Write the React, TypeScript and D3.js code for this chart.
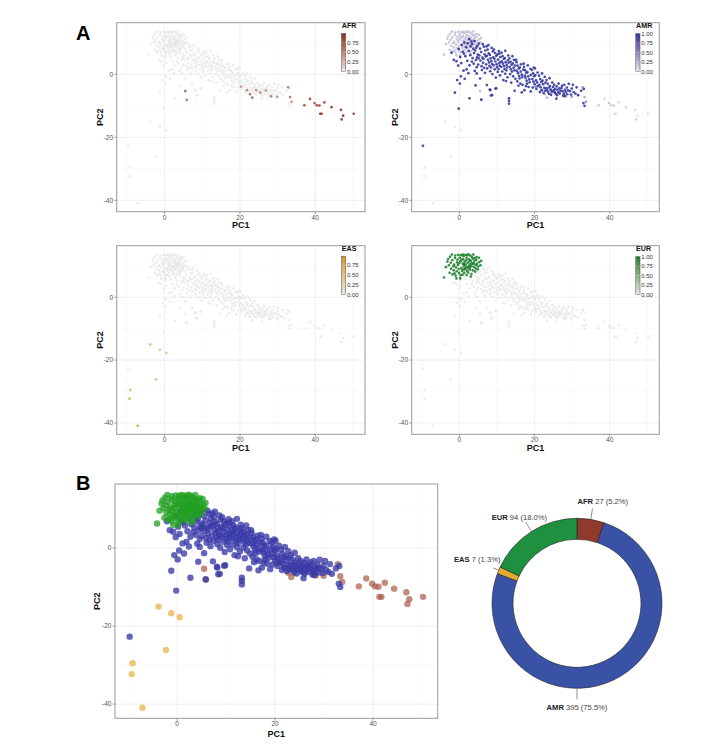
import React from "react";
import * as d3 from "d3";

// ---------------- DATA ----------------
const categories = ["AFR", "AMR", "EAS", "EUR"];
const counts = [27, 395, 7, 94];
const percentLabels = ["5.2%", "75.5%", "1.3%", "18.0%"];

const xTicks = [0, 20, 40];
const yTicks = [0, -20, -40];
const xMinor = [-10, 10, 30, 50];
const yMinor = [10, -10, -30];
const legendBreaks = [0, 0.25, 0.5, 0.75, 1];

// AFR samples: [PC1, PC2, AFR proportion]
const afrPoints: [number, number, number][] = [
  [5.5, -5.3, 0.75], [5.9, -8.1, 0.62], [20.3, -3.9, 0.45], [21.9, -5.0, 0.55], [22.7, -6.3, 0.68],
  [23.3, -7.4, 0.72], [24.3, -5.0, 0.5], [25.4, -5.8, 0.52], [26.9, -5.1, 0.47], [28.3, -7.0, 0.58],
  [29.9, -7.1, 0.55], [32.8, -4.1, 0.6], [33.3, -7.2, 0.66], [33.7, -8.7, 0.52], [37.1, -9.8, 0.85],
  [38.6, -7.8, 0.88], [39.8, -9.1, 0.8], [40.4, -9.8, 0.9], [41.1, -9.9, 0.86], [41.3, -12.5, 0.95],
  [41.7, -12.5, 0.92], [42.4, -8.9, 0.88], [44.3, -10.4, 0.9], [46.8, -11.3, 0.93], [47.0, -14.3, 0.9],
  [47.4, -13.1, 0.98], [50.2, -12.5, 0.91],
];

// EAS samples: [PC1, PC2, EAS proportion]
const easPoints: [number, number, number][] = [
  [-3.8, -15.0, 0.55], [-1.2, -16.7, 0.5], [0.5, -17.7, 0.45], [-2.3, -26.1, 0.6],
  [-9.1, -29.5, 0.7], [-9.3, -32.3, 0.75], [-7.1, -40.9, 0.97],
];

// EUR samples: [PC1, PC2]
const eurPoints: [number, number][] = [
  [-4.1, 6.3], [-3.2, 11.4], [-2.5, 12.9], [-1.1, 13.3], [-0.5, 12.0], [0.9, 10.7], [1.6, 13.5], [2.9, 13.3],
  [4.0, 11.6], [4.7, 10.7], [-1.5, 8.6], [-0.1, 7.7], [-1.8, 7.3], [-0.8, 6.0], [0.2, 6.0], [-2.8, 10.2],
  [-2.2, 9.1], [-1.9, 11.8], [-1.4, 10.4], [-0.9, 9.5], [-0.6, 11.1], [-0.3, 13.5], [0.1, 12.6], [0.3, 11.5],
  [0.5, 9.3], [0.7, 8.4], [1.0, 12.1], [1.2, 9.9], [1.4, 11.3], [1.5, 8.9], [1.7, 10.4], [1.9, 12.6],
  [2.0, 9.6], [2.2, 11.0], [2.3, 7.9], [2.5, 12.2], [2.6, 10.1], [2.8, 8.8], [3.0, 11.7], [3.1, 9.9],
  [3.3, 12.8], [3.5, 10.6], [3.6, 8.6], [3.8, 9.7], [4.1, 12.5], [4.3, 9.2], [4.5, 11.9], [5.0, 9.8],
  [5.3, 11.2], [5.6, 10.2], [-3.6, 9.6], [-2.6, 7.8], [-1.2, 12.5], [-0.4, 10.3], [0.4, 13.4], [0.8, 7.2],
  [1.1, 13.1], [1.3, 7.8], [1.8, 11.8], [2.1, 13.4], [2.4, 9.3], [2.7, 11.5], [3.2, 7.4], [3.4, 11.0],
  [3.9, 10.8], [4.2, 8.2], [4.6, 12.8], [4.9, 8.9], [-2.0, 13.6], [-1.6, 9.9], [-0.7, 8.3], [0.0, 10.9],
  [0.6, 12.0], [1.2, 10.6], [1.6, 9.3], [2.1, 8.4], [2.9, 10.6], [3.7, 13.6], [5.8, 11.6], [-3.0, 12.2],
  [0.3, 7.0], [1.9, 7.1], [-1.0, 6.9], [4.4, 10.2], [3.0, 6.6], [2.4, 13.7], [0.9, 13.6], [-2.3, 11.0],
  [5.2, 12.6], [-0.2, 9.0], [1.0, 8.9], [2.7, 9.5], [3.6, 12.3], [-1.3, 7.6],
];

// AMR samples: [PC1, PC2]
const amrPoints: [number, number][] = [
  [-0.8, 4.2], [-0.3, 2.8], [0.2, 5.5], [0.5, 3.6], [0.9, 7.2], [-0.2, 8.1], [0.6, 9.4], [1.1, 1.2],
  [0.4, -0.6], [-0.6, -1.8], [1.4, -1.4], [0.1, -2.9], [-1.2, -5.8], [-0.2, -10.9], [-9.7, -22.7], [-2.1, 6.9],
  [-1.5, 4.6],
  [1.3, 10.1], [1.8, 8.6], [2.2, 9.9], [2.5, 7.4], [1.6, 5.8], [2.9, 6.1], [2.1, 4.3], [2.7, 2.9],
  [1.9, 1.6], [2.4, 0.4], [2.7, -7.6], [3.0, 8.9], [1.2, 6.6], [2.6, 11.2], [3.2, 10.4],
  [3.4, 9.6], [3.7, 8.1], [3.9, 6.8], [4.2, 7.6], [3.5, 5.2], [4.4, 4.6], [3.8, 3.4], [4.6, 2.3],
  [4.1, 1.1], [4.3, -3.5], [4.8, 9.1], [4.9, 6.3], [4.5, 8.5], [3.3, 4.1], [4.7, 5.4], [5.0, 3.1],
  [4.0, 10.6], [4.6, 0.3],
  [5.2, 9.8], [5.5, 8.2], [5.8, 7.1], [5.3, 6.0], [6.1, 5.3], [5.6, 4.4], [6.3, 3.7], [5.9, 2.6],
  [6.5, 8.8], [6.7, 6.4], [6.0, 1.4], [6.8, 0.5], [5.5, -1.3], [5.8, -8.0], [6.2, 9.6], [6.9, 7.6],
  [6.4, 4.9], [5.1, 5.1], [6.6, 2.1], [7.0, 5.7],
  [7.2, 8.9], [7.5, 7.9], [7.8, 6.7], [7.3, 5.9], [8.1, 6.2], [7.6, 4.6], [8.3, 5.1], [7.9, 3.8],
  [8.5, 4.2], [8.0, 2.7], [8.7, 3.3], [7.4, 1.9], [8.2, 1.0], [8.8, 0.1], [7.3, -3.4], [8.1, -4.8],
  [8.4, -6.7], [8.2, -5.0], [8.7, -6.6], [8.9, 7.3], [8.6, 8.4], [7.7, 9.3], [8.4, 2.2], [7.1, 3.2],
  [9.0, 5.4],
  [9.2, 7.9], [9.5, 6.8], [9.8, 5.9], [9.3, 5.0], [10.1, 6.3], [9.6, 4.1], [10.3, 4.7], [9.9, 3.2],
  [10.6, 3.6], [10.0, 2.3], [10.7, 2.8], [9.4, 1.6], [10.2, 0.8], [10.8, -0.3], [9.6, -4.5], [9.8, -4.4],
  [10.5, 7.4], [10.9, 5.5], [9.1, 2.9], [10.4, 1.7], [11.0, 4.0], [9.7, -1.0], [10.6, 6.6],
  [11.2, 6.9], [11.5, 5.8], [11.8, 4.9], [11.3, 4.1], [12.1, 5.2], [11.6, 3.4], [12.3, 3.9], [11.9, 2.6],
  [12.6, 3.0], [12.0, 1.7], [12.7, 2.2], [11.4, 0.9], [12.2, 0.2], [12.8, -0.9], [11.7, -1.8], [12.2, 7.5],
  [12.9, 4.5], [11.1, 2.4], [12.5, 1.3], [13.0, 6.0], [12.4, -2.1],
  [13.2, -7.6], [13.2, -8.4], [13.2, -9.3], [13.3, 5.1], [13.6, 4.0], [13.9, 3.1], [13.4, 2.4], [14.2, 3.5],
  [13.7, 1.6], [14.4, 2.1], [14.0, 0.9], [14.7, 1.3], [13.5, 0.1], [14.3, -0.6], [14.9, -1.4], [14.7, -5.2],
  [13.8, -2.6], [14.5, 4.6], [14.1, 5.8], [13.1, 3.7], [14.8, 2.8],
  [15.2, 3.9], [15.5, 2.8], [15.8, 1.9], [15.3, 1.1], [16.1, 2.2], [15.6, 0.4], [16.3, 0.9], [15.9, -0.5],
  [16.6, -0.1], [16.0, -1.3], [16.7, -0.9], [15.4, -2.2], [16.2, -2.9], [16.8, -3.3], [16.6, -5.7], [15.1, 4.6],
  [16.4, 3.2], [15.7, -3.6], [17.0, 1.5],
  [17.3, -5.0], [17.2, 2.4], [17.5, 1.3], [17.8, 0.5], [17.4, -0.4], [18.1, 0.7], [17.6, -1.1], [18.3, -0.6],
  [17.9, -2.0], [18.6, -1.6], [18.0, -2.9], [18.7, -2.5], [17.7, -3.7], [18.4, -4.0], [18.9, 1.8], [17.1, 3.4],
  [18.2, 2.9], [19.0, -0.2],
  [19.0, -5.4], [19.3, 1.4], [19.6, 0.3], [19.9, -0.6], [19.4, -1.5], [20.2, -0.2], [19.7, -2.3], [20.4, -1.9],
  [20.0, -3.1], [20.7, -2.6], [20.1, 1.9], [20.8, 0.6], [19.5, -4.2], [20.5, -4.6], [20.9, -3.7], [19.8, 2.2],
  [21.2, -0.4], [21.5, -1.5], [21.8, -2.4], [21.3, -3.3], [22.1, -2.0], [21.6, -4.1], [22.3, -3.1], [21.9, -5.0],
  [22.6, -4.3], [22.0, 0.3], [22.7, -0.8], [21.4, -5.6], [22.4, -5.9], [22.9, -2.6], [22.8, -5.2],
  [23.2, -1.8], [23.5, -3.0], [23.8, -4.2], [23.3, -5.0], [24.1, -3.7], [23.6, -5.6], [24.3, -4.8], [23.9, -6.2],
  [24.6, -5.5], [24.0, -1.2], [24.7, -2.6], [24.4, -6.5], [23.1, -4.4], [24.9, -4.0],
  [25.2, -3.3], [25.5, -4.6], [25.8, -7.7], [25.3, -5.6], [26.1, -4.9], [25.6, -6.1], [26.3, -5.7], [25.9, -3.8],
  [26.6, -4.4], [26.0, -6.6], [26.7, -6.1], [26.4, -2.9], [25.1, -5.0], [26.9, -5.2],
  [27.2, -4.3], [27.5, -5.4], [27.8, -6.2], [27.3, -3.6], [28.1, -4.9], [27.6, -6.8], [28.3, -5.6], [28.6, -4.2],
  [28.0, -6.9], [28.7, -6.3], [27.9, -3.3], [28.9, -5.1],
  [29.1, -3.0], [30.2, -3.3], [29.9, -4.5], [30.9, -6.1], [29.4, -5.3], [30.4, -5.6], [31.2, -4.1], [31.6, -6.6],
  [29.7, -6.4], [33.0, -9.1], [33.3, -10.0], [32.4, -5.2], [33.1, -4.6],
];

// secondary AMR share carried by non-AMR groups (for panel A colouring)
const amrShareEUR = 0.2;
const amrShareEAS = 0.03;

// ---------------- STYLE ----------------
const FONT = "'Liberation Sans', Arial, Helvetica, sans-serif";
const highColor: Record<string, string> = { AFR: "#8c2a1c", AMR: "#30339a", EAS: "#d99a12", EUR: "#1a7f2b" };
const lowColor = "#e6e6e6";
const bColor: Record<string, string> = { AFR: "#a85a48", AMR: "#3a3aa8", EAS: "#e4b448", EUR: "#22a022" };
const bOpacity: Record<string, number> = { AFR: 0.7, AMR: 0.78, EAS: 0.75, EUR: 0.75 };
const donutColor: Record<string, string> = { AFR: "#8f3a2a", AMR: "#3a52a6", EAS: "#e5a930", EUR: "#1f8f40" };

type Sample = { x: number; y: number; group: string; p: Record<string, number> };

const samples: Sample[] = [
  ...afrPoints.map(([x, y, a]) => ({ x, y, group: "AFR", p: { AFR: a, AMR: 1 - a, EAS: 0, EUR: 0 } })),
  ...easPoints.map(([x, y, e]) => ({ x, y, group: "EAS", p: { AFR: 0, AMR: amrShareEAS, EAS: e, EUR: 0 } })),
  ...amrPoints.map(([x, y]) => ({ x, y, group: "AMR", p: { AFR: 0, AMR: 1, EAS: 0, EUR: 0 } })),
  ...eurPoints.map(([x, y]) => ({ x, y, group: "EUR", p: { AFR: 0, AMR: amrShareEUR, EAS: 0, EUR: 1 } })),
];

const xExt = d3.extent(samples, (d) => d.x) as [number, number];
const yExt = d3.extent(samples, (d) => d.y) as [number, number];
const pad = (e: [number, number]): [number, number] => {
  const r = e[1] - e[0];
  return [e[0] - 0.05 * r, e[1] + 0.05 * r];
};
const xDomain = pad(xExt);
const yDomain = pad(yExt);

type Box = { x: number; y: number; w: number; h: number };

function Frame({ box, tickFont, tickDy, titleDy, ylabDx, titleFont, children }: any) {
  const xs = d3.scaleLinear().domain(xDomain).range([box.x, box.x + box.w]);
  const ys = d3.scaleLinear().domain(yDomain).range([box.y + box.h, box.y]);
  const bottom = box.y + box.h;
  return (
    <g>
      <rect x={box.x} y={box.y} width={box.w} height={box.h} fill="#fff" />
      {xMinor.filter((v) => v > xDomain[0] && v < xDomain[1]).map((v) => (
        <line key={"xm" + v} x1={xs(v)} x2={xs(v)} y1={box.y} y2={bottom} stroke="#f4f4f4" strokeWidth={0.5} />
      ))}
      {yMinor.filter((v) => v > yDomain[0] && v < yDomain[1]).map((v) => (
        <line key={"ym" + v} y1={ys(v)} y2={ys(v)} x1={box.x} x2={box.x + box.w} stroke="#f4f4f4" strokeWidth={0.5} />
      ))}
      {xTicks.map((v) => (
        <line key={"xg" + v} x1={xs(v)} x2={xs(v)} y1={box.y} y2={bottom} stroke="#ebebeb" strokeWidth={0.8} />
      ))}
      {yTicks.map((v) => (
        <line key={"yg" + v} y1={ys(v)} y2={ys(v)} x1={box.x} x2={box.x + box.w} stroke="#ebebeb" strokeWidth={0.8} />
      ))}
      {children(xs, ys)}
      <rect x={box.x} y={box.y} width={box.w} height={box.h} fill="none" stroke="#9a9a9a" strokeWidth={1} />
      {xTicks.map((v) => (
        <g key={"xt" + v}>
          <line x1={xs(v)} x2={xs(v)} y1={bottom} y2={bottom + 2.5} stroke="#666" strokeWidth={0.6} />
          <text x={xs(v)} y={bottom + tickDy} textAnchor="middle" fontSize={tickFont} fill="#555" fontFamily={FONT}>
            {v}
          </text>
        </g>
      ))}
      {yTicks.map((v) => (
        <g key={"yt" + v}>
          <line x1={box.x - 2.5} x2={box.x} y1={ys(v)} y2={ys(v)} stroke="#666" strokeWidth={0.6} />
          <text x={box.x - 3.5} y={ys(v)} dy="0.35em" textAnchor="end" fontSize={tickFont} fill="#555" fontFamily={FONT}>
            {v}
          </text>
        </g>
      ))}
      <text x={box.x + box.w / 2} y={bottom + titleDy} textAnchor="middle" fontSize={titleFont} fontWeight="bold" fontFamily={FONT} fill="#111">
        PC1
      </text>
      <text
        transform={`translate(${box.x - ylabDx},${box.y + box.h / 2}) rotate(-90)`}
        textAnchor="middle"
        dy="0.35em"
        fontSize={titleFont}
        fontWeight="bold"
        fontFamily={FONT}
        fill="#111"
      >
        PC2
      </text>
    </g>
  );
}

function PanelA({ box, cat }: { box: Box; cat: string }) {
  const vals = samples.map((s) => s.p[cat]);
  const vmax = d3.max(vals) as number;
  const color = d3.scaleLinear<string>().domain([0, vmax]).range([lowColor, highColor[cat]]).interpolate(d3.interpolateLab);
  const sorted = [...samples].sort((a, b) => a.p[cat] - b.p[cat]);
  const barTop = box.y + 10.8;
  const barLen = 38;
  const barX = box.x + box.w - 23.5;
  const ly = d3.scaleLinear().domain([0, vmax]).range([barTop + barLen, barTop]);
  const gid = "grad" + cat;
  const stops = d3.range(0, 1.0001, 0.1);
  return (
    <g>
      <defs>
        <linearGradient id={gid} x1="0" y1="1" x2="0" y2="0">
          {stops.map((t) => (
            <stop key={t} offset={t} stopColor={t === 0 ? "#f6f6f6" : color(t * vmax)} />
          ))}
        </linearGradient>
      </defs>
      <Frame box={box} tickFont={6.6} tickDy={8} titleDy={16.5} ylabDx={16.5} titleFont={9}>
        {(xs: any, ys: any) =>
          sorted.map((s, i) => (
            <circle
              key={i}
              cx={xs(s.x)}
              cy={ys(s.y)}
              r={1.35}
              fill={color(s.p[cat])}
              fillOpacity={s.p[cat] < 0.05 ? 0.7 : 0.88}
            />
          ))
        }
      </Frame>
      <text x={barX + 0.3} y={box.y + 5.6} fontSize={7.1} fontWeight="bold" fontFamily={FONT} fill="#111">
        {cat}
      </text>
      <rect x={barX} y={barTop} width={4.2} height={barLen} fill={`url(#${gid})`} stroke="#444" strokeWidth={0.5} />
      {legendBreaks.filter((b) => b <= vmax + 1e-9).map((b) => (
        <g key={b}>
          <line x1={barX} x2={barX + 0.9} y1={ly(b)} y2={ly(b)} stroke="#fff" strokeWidth={0.5} />
          <line x1={barX + 3.3} x2={barX + 4.2} y1={ly(b)} y2={ly(b)} stroke="#fff" strokeWidth={0.5} />
          <text x={barX + 5.4} y={ly(b)} dy="0.35em" fontSize={6} fontFamily={FONT} fill="#333">
            {b.toFixed(2)}
          </text>
        </g>
      ))}
    </g>
  );
}

function PanelB({ box }: { box: Box }) {
  const order = ["AFR", "EAS", "AMR", "EUR"];
  const pts = order.flatMap((g) => samples.filter((s) => s.group === g));
  return (
    <Frame box={box} tickFont={6.6} tickDy={8} titleDy={18.5} ylabDx={18.3} titleFont={9}>
      {(xs: any, ys: any) =>
        pts.map((s, i) => (
          <circle key={i} cx={xs(s.x)} cy={ys(s.y)} r={3.2} fill={bColor[s.group]} fillOpacity={bOpacity[s.group]} />
        ))
      }
    </Frame>
  );
}

function Donut() {
  const cx = 577, cy = 603.3, rOut = 85, rIn = 64;
  const pie = d3.pie<number>().sort(null).value((d) => d);
  const arcs = pie(counts);
  const arc = d3.arc<d3.PieArcDatum<number>>().innerRadius(rIn).outerRadius(rOut);
  const maxCount = d3.max(counts) as number;
  const nudge: Record<string, [number, number]> = { AFR: [9, 1], AMR: [0, 0], EAS: [-4, -4], EUR: [-2, 1.5] };
  return (
    <g transform={`translate(${cx},${cy})`}>
      {arcs.map((a, i) => (
        <path key={i} d={arc(a) as string} fill={donutColor[categories[i]]} stroke="#222" strokeWidth={0.6} />
      ))}
      {arcs.map((a, i) => {
        const cat = categories[i];
        const ang = counts[i] === maxCount ? Math.PI : (a.startAngle + a.endAngle) / 2;
        const sx = Math.sin(ang), sy = -Math.cos(ang);
        const lr = cat === "EAS" ? 91 : 96;
        const [nx, ny] = nudge[cat];
        const tx = sx * 104 + nx;
        const ty = sy * 104 + ny + 2.7;
        return (
          <g key={"l" + i}>
            <line x1={sx * rOut} y1={sy * rOut} x2={sx * lr} y2={sy * lr} stroke="#444" strokeWidth={0.6} />
            <text x={tx} y={ty} textAnchor="middle" fontSize={7.6} fontFamily={FONT} fill="#444">
              <tspan fontWeight="bold" fill="#222">{cat}</tspan>
              <tspan>{` ${counts[i]} (${percentLabels[i]})`}</tspan>
            </text>
          </g>
        );
      })}
    </g>
  );
}

export default function App() {
  const panelsA: { cat: string; box: Box }[] = [
    { cat: "AFR", box: { x: 116.7, y: 22.7, w: 248.3, h: 189 } },
    { cat: "AMR", box: { x: 411.7, y: 22.7, w: 247.6, h: 189 } },
    { cat: "EAS", box: { x: 116.7, y: 245.7, w: 248.3, h: 188.6 } },
    { cat: "EUR", box: { x: 411.7, y: 245.7, w: 247.6, h: 188.6 } },
  ];
  const boxB: Box = { x: 115, y: 484, w: 322.7, h: 234.3 };
  return (
    <svg width={710} height={747} viewBox="0 0 710 747" style={{ display: "block", position: "absolute", left: 0, top: 0 }}>
      <rect x={0} y={0} width={710} height={747} fill="#fff" />
      <text x={76} y={39.5} fontSize={20} fontWeight="bold" fontFamily={FONT} fill="#000">A</text>
      {panelsA.map((p) => (
        <PanelA key={p.cat} box={p.box} cat={p.cat} />
      ))}
      <text x={76} y={490} fontSize={20} fontWeight="bold" fontFamily={FONT} fill="#000">B</text>
      <PanelB box={boxB} />
      <Donut />
    </svg>
  );
}
